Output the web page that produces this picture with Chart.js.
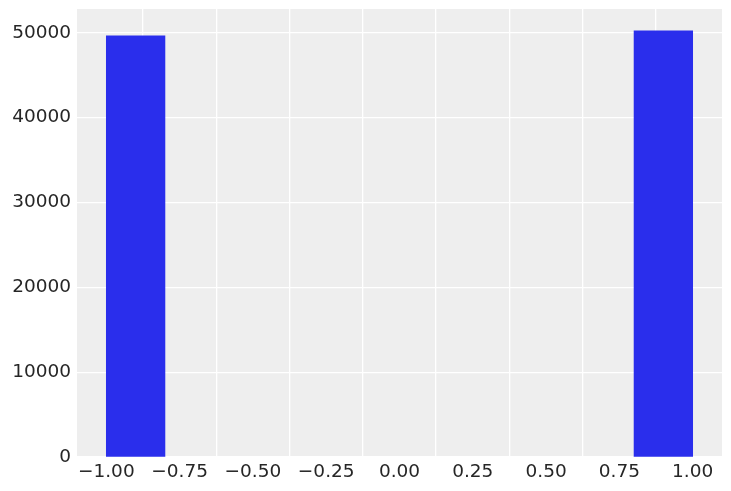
<!DOCTYPE html>
<html>
<head>
<meta charset="utf-8">
<script src="https://cdn.jsdelivr.net/npm/chart.js@4/dist/chart.umd.min.js"></script>
<style>
  html, body { margin: 0; padding: 0; background: #ffffff; }
  #hist { display: block; }
</style>
</head>
<body>
<canvas id="hist" width="731" height="491"></canvas>
<script>
// histogram bins (10 bins between -1 and 1)
const binCenters = [-0.9, -0.7, -0.5, -0.3, -0.1, 0.1, 0.3, 0.5, 0.7, 0.9];
const counts = [49650, 0, 0, 0, 0, 0, 0, 0, 0, 50240];
const xTicks = [-1, -0.75, -0.5, -0.25, 0, 0.25, 0.5, 0.75, 1];
const yTicks = [0, 10000, 20000, 30000, 40000, 50000];

const fmtX = (v) => {
  let s = Math.abs(v).toFixed(2);
  return v < 0 ? "\u2212" + s : s;
};

const plotBg = {
  id: "plotBg",
  beforeDraw(chart) {
    const a = chart.chartArea;
    const ctx = chart.ctx;
    ctx.save();
    ctx.fillStyle = "#eeeeee";
    ctx.fillRect(a.left, a.top, a.right - a.left, a.bottom - a.top);
    ctx.restore();
  },
};

Chart.defaults.font.family = "'DejaVu Sans', sans-serif";
Chart.defaults.font.size = 18.5;
Chart.defaults.color = "#262626";

var histChart = new Chart(document.getElementById("hist"), {
  type: "bar",
  data: {
    datasets: [
      {
        label: "counts",
        data: binCenters.map((x, i) => ({ x: x, y: counts[i] })),
        backgroundColor: (ctx) =>
          ctx.raw && ctx.raw.y === 0 ? "rgba(0,0,0,0)" : "#2a2eec",
        borderWidth: 0,
        barPercentage: 1,
        categoryPercentage: 1,
      },
    ],
  },
  options: {
    responsive: false,
    animation: false,
    layout: { padding: { left: 0, top: 9, right: 9, bottom: 0 } },
    plugins: { legend: { display: false }, tooltip: { enabled: false } },
    scales: {
      x: {
        type: "linear",
        min: -1.1,
        max: 1.1,
        offset: false,
        border: { display: false },
        grid: { color: "#ffffff", lineWidth: 1.3, drawTicks: false },
        afterBuildTicks: (scale) => {
          scale.ticks = xTicks.map((v) => ({ value: v }));
        },
        afterFit: (scale) => {
          scale.height = 34;
          scale.paddingLeft = 0;
          scale.paddingRight = 0;
        },
        ticks: {
          padding: 4,
          maxRotation: 0,
          autoSkip: false,
          callback: (v) => fmtX(v),
        },
      },
      y: {
        min: 0,
        max: 52800,
        border: { display: false },
        grid: { color: "#ffffff", lineWidth: 1.3, drawTicks: false },
        afterBuildTicks: (scale) => {
          scale.ticks = yTicks.map((v) => ({ value: v }));
        },
        afterFit: (scale) => {
          scale.width = 77;
          scale.paddingTop = 0;
          scale.paddingBottom = 0;
        },
        ticks: {
          padding: 6,
          callback: (v) => String(v),
        },
      },
    },
  },
  plugins: [plotBg],
});
</script>
</body>
</html>
